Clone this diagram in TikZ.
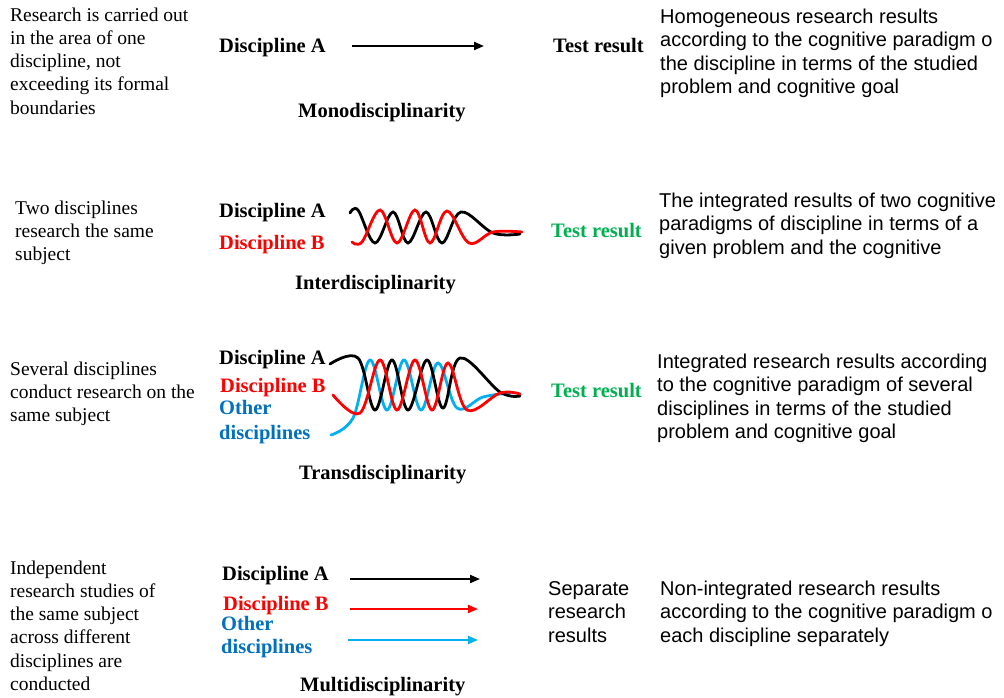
\documentclass[tikz,border=0pt]{standalone}
\usepackage{fontspec}
\setmainfont{Liberation Serif}
\newfontfamily\sansf{Liberation Sans}
\usetikzlibrary{arrows.meta}
\definecolor{cred}{RGB}{255,0,0}
\definecolor{ctblue}{RGB}{0,112,192}
\definecolor{ccyan}{RGB}{0,176,240}
\definecolor{cgreen}{RGB}{0,176,80}
\begin{document}
\begin{tikzpicture}[x=1pt,y=-1pt,
  desc/.style={anchor=base west, inner sep=0, align=left, font=\fontsize{19.5}{23.3}\selectfont},
  lab/.style={anchor=base west, inner sep=0, font=\fontsize{20.5}{24}\selectfont\bfseries},
  res/.style={anchor=base west, inner sep=0, align=left, font=\fontsize{20}{23.5}\selectfont\sansf},
  arr/.style={line width=2pt, -{Triangle[length=10pt,width=8pt]}},
  wave/.style={line width=2.8pt, line cap=round}]
\clip (0,0) rectangle (1004,697);
\fill[white] (0,0) rectangle (1004,697);

% (multi-line nodes are placed at the baseline of their last line)
% ---------- Row 1: Monodisciplinarity
\node[desc] (d1) at (10,114.2) {Research is carried out\\in the area of one\\discipline, not\\exceeding its formal\\boundaries};
\node[lab] (a1) at (219,52) {Discipline A};
\coordinate (a1s) at (352,46);
\coordinate (a1e) at (484,46);
\draw[arr] (a1s) -- (a1e);
\node[lab] (t1) at (553,52) {Test result};
\node[lab] (m1) at (298,117) {Monodisciplinarity};
\node[res] (r1) at (660,93.5) {Homogeneous research results\\according to the cognitive paradigm o\\the discipline in terms of the studied\\problem and cognitive goal};

% ---------- Row 2: Interdisciplinarity
\node[desc] (d2) at (15,260.6) {Two disciplines\\research the same\\subject};
\node[lab] (a2) at (219,217) {Discipline A};
\node[lab, text=cred] (b2) at (219,249) {Discipline B};
\draw[wave, black] plot[smooth, tension=0.6] coordinates {(350,213) (358,210) (375,243) (393,212) (408,243) (426,212) (442,243) (461,212) (493,233) (520,234)};
\draw[wave, cred] plot[smooth, tension=0.6] coordinates {(352,242) (362,242) (380,210) (397,243) (415,210) (430,243) (447,211) (469,243) (493,232) (522,232)};
\node[lab, text=cgreen] (t2) at (551,237) {Test result};
\node[lab] (m2) at (295,289) {Interdisciplinarity};
\node[res] (r2) at (659,254) {The integrated results of two cognitive\\paradigms of discipline in terms of a\\given problem and the cognitive};

% ---------- Row 3: Transdisciplinarity
\node[desc] (d3) at (10,421.6) {Several disciplines\\conduct research on the\\same subject};
\node[lab] (a3) at (219,364) {Discipline A};
\node[lab, text=cred] (b3) at (220,392) {Discipline B};
\node[lab, text=ctblue] (o3) at (219,414) {Other};
\node[lab, text=ctblue] (o3b) at (219,439) {disciplines};
\draw[wave, ccyan] plot[smooth, tension=0.6] coordinates {(331,435) (353,418) (370,360) (387,410) (404,360) (421,410) (438,363) (457,408) (483,397) (510,393)};
\draw[wave, black] plot[smooth, tension=0.6] coordinates {(330,364) (358,358) (375,410) (392,360) (408,410) (427,360) (443,408) (460,358) (500,392) (520,396)};
\draw[wave, cred] plot[smooth, tension=0.6] coordinates {(333,395) (360,413) (380,360) (397,410) (415,360) (432,410) (448,363) (467,410) (500,393) (520,394)};
\node[lab, text=cgreen] (t3) at (551,397) {Test result};
\node[lab] (m3) at (299,479) {Transdisciplinarity};
\node[res] (r3) at (657,438.5) {Integrated research results according\\to the cognitive paradigm of several\\disciplines in terms of the studied\\problem and cognitive goal};

% ---------- Row 4: Multidisciplinarity
\node[desc] (d4) at (10,690.5) {Independent\\research studies of\\the same subject\\across different\\disciplines are\\conducted};
\node[lab] (a4) at (222,580) {Discipline A};
\node[lab, text=cred] (b4) at (223,610) {Discipline B};
\node[lab, text=ctblue] (o4) at (221,630) {Other};
\node[lab, text=ctblue] (o4b) at (221,653) {disciplines};
\coordinate (a4s) at (350,579);
\coordinate (a4e) at (480,579);
\coordinate (b4s) at (350,609);
\coordinate (b4e) at (478,609);
\coordinate (o4s) at (348,640);
\coordinate (o4e) at (478,640);
\draw[arr, black] (a4s) -- (a4e);
\draw[arr, cred] (b4s) -- (b4e);
\draw[arr, ccyan] (o4s) -- (o4e);
\node[res] (s4) at (548,642) {Separate\\research\\results};
\node[lab] (m4) at (300,691) {Multidisciplinarity};
\node[res] (r4) at (660,642) {Non-integrated research results\\according to the cognitive paradigm o\\each discipline separately};
\end{tikzpicture}
\end{document}
